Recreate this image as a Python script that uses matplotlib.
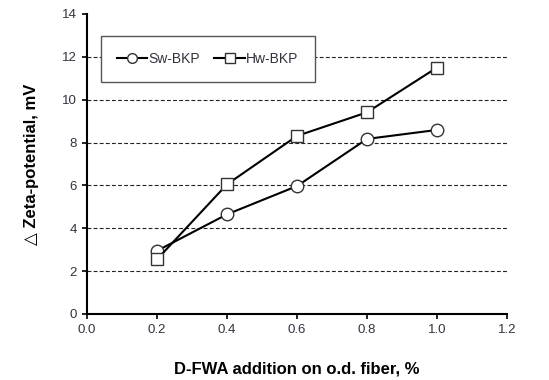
import matplotlib
matplotlib.use("Agg")
import matplotlib.pyplot as plt

plt.rcParams['font.family'] = ['Liberation Sans', 'DejaVu Sans']

fwa = [0.2, 0.4, 0.6, 0.8, 1.0]
sw_bkp = [2.95, 4.65, 5.97, 8.17, 8.59]
hw_bkp = [2.55, 6.05, 8.31, 9.41, 11.5]

fig = plt.figure(figsize=(5.49, 3.80), dpi=100)
ax = fig.add_axes([87 / 549, 66 / 380, 420 / 549, 300 / 380])

# dashed horizontal guide lines
for y in range(2, 14, 2):
    ax.axhline(y, color='#222222', linestyle=(0, (3.5, 2)), linewidth=0.8, zorder=1)

ax.plot(fwa, sw_bkp, color='black', linewidth=1.5, marker='o', markersize=9,
        markerfacecolor='white', markeredgecolor='#333333', markeredgewidth=1.0,
        label='Sw-BKP', zorder=3)
ax.plot(fwa, hw_bkp, color='black', linewidth=1.5, marker='s', markersize=9,
        markerfacecolor='white', markeredgecolor='#333333', markeredgewidth=1.0,
        label='Hw-BKP', zorder=3)

ax.set_xlim(0, 1.2)
ax.set_ylim(0, 14)
ax.set_xticks([0.0, 0.2, 0.4, 0.6, 0.8, 1.0, 1.2])
ax.set_xticklabels(['0.0', '0.2', '0.4', '0.6', '0.8', '1.0', '1.2'])
ax.set_yticks(range(0, 16, 2))
ax.tick_params(direction='out', length=3.5, width=1.2, labelsize=9.5,
               labelcolor='#333340', pad=4)
ax.spines['top'].set_visible(False)
ax.spines['right'].set_visible(False)
ax.spines['left'].set_linewidth(1.5)
ax.spines['bottom'].set_linewidth(1.5)

ax.set_xlabel('D-FWA addition on o.d. fiber, %', fontsize=12, fontweight='bold',
              labelpad=18)
ax.set_ylabel('△ Zeta-potential, mV', fontsize=12, fontweight='bold', labelpad=16)

leg = ax.legend(loc='upper left', bbox_to_anchor=(0.033, 0.927), ncol=2,
                fontsize=10, frameon=True, fancybox=False, framealpha=1,
                handlelength=2.2, handletextpad=0.1, columnspacing=1.0,
                borderpad=1.15, borderaxespad=0)
leg.get_frame().set_edgecolor('#555555')
leg.get_frame().set_linewidth(1.0)
for t in leg.get_texts():
    t.set_color('#333340')
for h in leg.legend_handles:
    h.set_markersize(7)

fig.savefig('out.png', dpi=100)
